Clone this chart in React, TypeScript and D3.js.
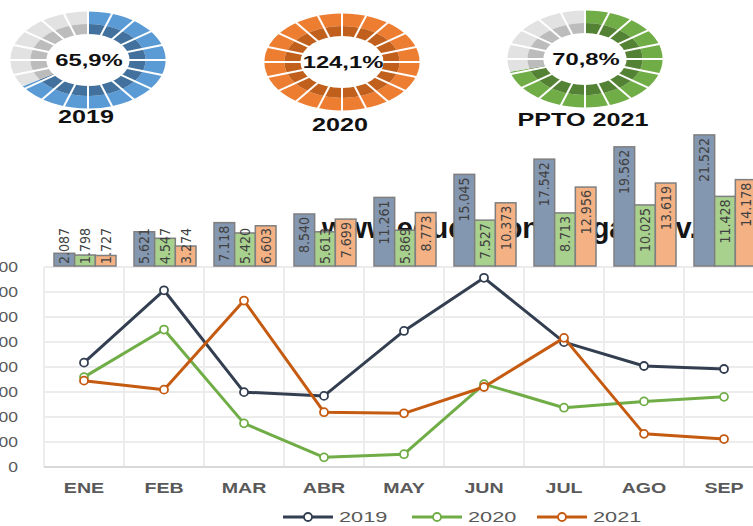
import React, { useEffect, useRef } from "react";
import * as d3 from "d3";

const months = ["ENE", "FEB", "MAR", "ABR", "MAY", "JUN", "JUL", "AGO", "SEP"];
const years = ["2019", "2020", "2021"];

// acumulado (barras)
const acum2019 = [2087, 5621, 7118, 8540, 11261, 15045, 17542, 19562, 21522];
const acum2020 = [1798, 4547, 5420, 5613, 5869, 7527, 8713, 10025, 11428];
const acum2021 = [1727, 3274, 6603, 7699, 8773, 10373, 12956, 13619, 14178];

// mensual (lineas)
const mes2019 = [2087, 3534, 1497, 1422, 2721, 3784, 2497, 2020, 1960];
const mes2020 = [1798, 2749, 873, 193, 256, 1658, 1186, 1312, 1403];
const mes2021 = [1727, 1547, 3329, 1096, 1074, 1600, 2583, 663, 559];

const yTicks = [0, 500, 1000, 1500, 2000, 2500, 3000, 3500, 4000];

const donutNames = ["2019", "2020", "PPTO 2021"];
const donutPct = [65.9, 124.1, 70.8];

const barColors = ["#8497b0", "#a9d18e", "#f4b183"];
const lineColors = ["#333f50", "#70ad47", "#c55a11"];
const donutMain = ["#5b9bd5", "#ed7d31", "#70ad47"];
const donutDark = ["#41719c", "#c0601c", "#548235"];

const locale = d3.formatLocale({
  decimal: ",",
  thousands: ".",
  grouping: [3],
  currency: ["", ""],
});
const fmtInt = locale.format(",d");
const fmtPct = locale.format(",.1f");

const FONT = "'Liberation Sans', Arial, sans-serif";

const App = () => {
  const chart = useRef<SVGSVGElement>(null);

  useEffect(() => {
    const width = 753;
    const height = 526;
    const svg = d3.select(chart.current).attr("width", width).attr("height", height);
    svg.selectAll("*").remove();

    // ---- donuts ----
    const centers = [
      [88, 60],
      [342, 62],
      [585, 59],
    ];
    const nameY = [123, 131, 126];
    const rIn = 26;
    const rMid = 36;
    const rOut = 48.5;
    const nSeg = 20;

    donutPct.forEach((pct, i) => {
      const [cx, cy] = centers[i];
      const g = svg.append("g").attr("transform", `translate(${cx},${cy}) scale(1.6,1)`);
      const end = Math.min(pct / 100, 1) * 2 * Math.PI;
      const rings = [
        { r0: rMid, r1: rOut, on: donutMain[i], off: "#e2e2e2" },
        { r0: rIn, r1: rMid, on: donutDark[i], off: "#bcbcbc" },
      ];
      rings.forEach((rg) => {
        const arc = d3.arc().innerRadius(rg.r0).outerRadius(rg.r1);
        g.append("path")
          .attr("d", arc({ startAngle: 0, endAngle: end } as any) as string)
          .attr("fill", rg.on);
        if (end < 2 * Math.PI) {
          g.append("path")
            .attr("d", arc({ startAngle: end, endAngle: 2 * Math.PI } as any) as string)
            .attr("fill", rg.off);
        }
      });
      // white separators
      g.selectAll("line.sep")
        .data(d3.range(nSeg))
        .join("line")
        .attr("x1", (k) => (rIn - 1) * Math.sin((k * 2 * Math.PI) / nSeg))
        .attr("y1", (k) => -(rIn - 1) * Math.cos((k * 2 * Math.PI) / nSeg))
        .attr("x2", (k) => (rOut + 1) * Math.sin((k * 2 * Math.PI) / nSeg))
        .attr("y2", (k) => -(rOut + 1) * Math.cos((k * 2 * Math.PI) / nSeg))
        .attr("stroke", "#fff")
        .attr("stroke-width", 2)
        .attr("vector-effect", "non-scaling-stroke");

      svg.append("text")
        .attr("transform", `translate(${cx + 1},${cy + 6}) scale(1.4,1)`)
        .attr("text-anchor", "middle")
        .attr("font-family", FONT)
        .attr("font-weight", "bold")
        .attr("font-size", 17)
        .attr("fill", "#111")
        .text(fmtPct(pct) + "%");

      svg.append("text")
        .attr("transform", `translate(${cx - 2},${nameY[i]}) scale(1.4,1)`)
        .attr("text-anchor", "middle")
        .attr("font-family", FONT)
        .attr("font-weight", "bold")
        .attr("font-size", 18)
        .attr("fill", "#111")
        .text(donutNames[i]);
    });

    // ---- shared x ----
    const x = d3.scaleBand().domain(months).range([44, 44 + months.length * 80]);

    // ---- line chart grid ----
    const y = d3.scaleLinear().domain([0, 4000]).range([467, 267]);
    const grid = svg.append("g");
    grid.selectAll("line.h")
      .data(yTicks.slice(1))
      .join("line")
      .attr("x1", 44)
      .attr("x2", width)
      .attr("y1", (d) => y(d))
      .attr("y2", (d) => y(d))
      .attr("stroke", "#ececec")
      .attr("stroke-width", 2);
    grid.selectAll("line.v")
      .data(months)
      .join("line")
      .attr("x1", (d) => x(d)!)
      .attr("x2", (d) => x(d)!)
      .attr("y1", y(4000))
      .attr("y2", y(0))
      .attr("stroke", "#ececec")
      .attr("stroke-width", 2);
    grid.append("line")
      .attr("x1", 44)
      .attr("x2", width)
      .attr("y1", y(0))
      .attr("y2", y(0))
      .attr("stroke", "#d9d9d9")
      .attr("stroke-width", 2);

    // y labels (the left edge cuts them, as in the original)
    svg.append("g")
      .selectAll("text")
      .data(yTicks)
      .join("text")
      .attr("transform", (d) => `translate(18,${y(d) + 5}) scale(1.25,1)`)
      .attr("text-anchor", "end")
      .attr("font-family", FONT)
      .attr("font-size", 14)
      .attr("fill", "#595959")
      .text((d) => fmtInt(d));

    // x labels
    svg.append("g")
      .selectAll("text")
      .data(months)
      .join("text")
      .attr("transform", (d) => `translate(${x(d)! + 40},${493}) scale(1.4,1)`)
      .attr("text-anchor", "middle")
      .attr("font-family", FONT)
      .attr("font-weight", "bold")
      .attr("font-size", 14)
      .attr("fill", "#595959")
      .text((d) => d);

    // ---- watermark behind the bars ----
    svg.append("text")
      .attr("x", 322)
      .attr("y", 238)
      .attr("font-family", FONT)
      .attr("font-weight", "bold")
      .attr("font-size", 29)
      .attr("fill", "#151515")
      .text("www.educacionqueganasv.");

    // ---- bars (acumulado) ----
    const yb = d3.scaleLinear().domain([0, 22000]).range([266, 132]);
    const x1 = d3.scaleBand().domain(years).range([0, 62]);
    const acum = [acum2019, acum2020, acum2021];
    const barData = months.flatMap((m, mi) =>
      years.map((yr, si) => ({ m, yr, si, v: acum[si][mi] }))
    );
    const bars = svg.append("g");
    bars.selectAll("rect")
      .data(barData)
      .join("rect")
      .attr("x", (d) => x(d.m)! + 10 + x1(d.yr)!)
      .attr("y", (d) => yb(d.v))
      .attr("width", x1.bandwidth())
      .attr("height", (d) => yb(0) - yb(d.v))
      .attr("fill", (d) => barColors[d.si])
      .attr("stroke", "#7f7f7f")
      .attr("stroke-width", 1.5);

    bars.selectAll("text")
      .data(barData)
      .join("text")
      .attr("font-family", "'Liberation Sans Narrow', 'DejaVu Sans Condensed', sans-serif")
      .attr("font-size", 14)
      .attr("fill", "#404040")
      .attr("text-anchor", "end")
      .text((d) => fmtInt(d.v))
      .each(function (d) {
        const el = this as SVGTextElement;
        const len = el.getComputedTextLength();
        const top = Math.min(yb(d.v) + 3, yb(0) - len - 2);
        const cx = x(d.m)! + 10 + x1(d.yr)! + x1.bandwidth() / 2 + 5;
        d3.select(el).attr("transform", `translate(${cx},${top}) rotate(-90)`);
      });

    // ---- lines (mensual) ----
    const mes = [mes2019, mes2020, mes2021];
    const line = d3
      .line<number>()
      .x((_, i) => x(months[i])! + 40)
      .y((d) => y(d));
    mes.forEach((s, si) => {
      const g = svg.append("g");
      g.append("path")
        .attr("d", line(s) as string)
        .attr("fill", "none")
        .attr("stroke", lineColors[si])
        .attr("stroke-width", 3)
        .attr("stroke-linejoin", "round");
      g.selectAll("circle")
        .data(s)
        .join("circle")
        .attr("cx", (_, i) => x(months[i])! + 40)
        .attr("cy", (d) => y(d))
        .attr("r", 4)
        .attr("fill", "#fff")
        .attr("stroke", lineColors[si])
        .attr("stroke-width", 1.8);
    });

    // ---- legend ----
    const legX = [283, 412, 537];
    const leg = svg.append("g");
    years.forEach((yr, si) => {
      const lx = legX[si];
      leg.append("line")
        .attr("x1", lx)
        .attr("x2", lx + 50)
        .attr("y1", 517)
        .attr("y2", 517)
        .attr("stroke", lineColors[si])
        .attr("stroke-width", 3);
      leg.append("circle")
        .attr("cx", lx + 25)
        .attr("cy", 517)
        .attr("r", 4)
        .attr("fill", "#fff")
        .attr("stroke", lineColors[si])
        .attr("stroke-width", 1.8);
      leg.append("text")
        .attr("transform", `translate(${lx + 56},522) scale(1.45,1)`)
        .attr("font-family", FONT)
        .attr("font-size", 15)
        .attr("fill", "#595959")
        .text(yr);
    });
  });

  return (
    <div id="d3demo" style={{ position: "absolute", left: 0, top: 0 }}>
      <svg ref={chart} style={{ display: "block" }}></svg>
    </div>
  );
};

export default App;
